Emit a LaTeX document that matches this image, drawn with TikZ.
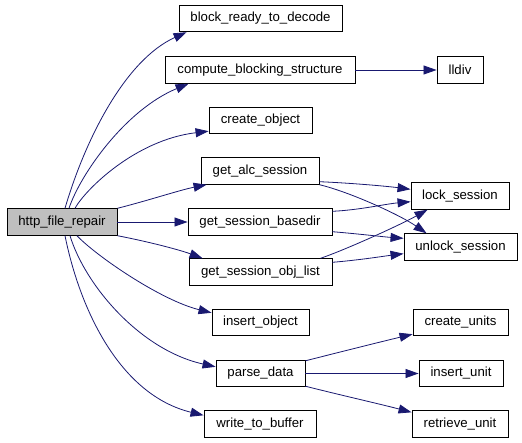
\documentclass[tikz,border=0pt]{standalone}
\usepackage{fontspec}
\setmainfont{Liberation Sans}
\usetikzlibrary{arrows.meta}
\definecolor{edgeblue}{HTML}{191970}
\definecolor{rootgrey}{HTML}{BFBFBF}
\begin{document}
\begin{tikzpicture}[x=1pt,y=-1pt,
  fn/.style={draw=black,line width=0.9pt,fill=white,rectangle,inner sep=0pt,minimum height=26.5pt,font=\fontsize{13.2}{15}\selectfont},
  rootfn/.style={fn,fill=rootgrey},
  call/.style={draw=edgeblue,line width=0.8pt,-{Triangle[length=13pt,width=9pt]}}]
\useasboundingbox (0,0) rectangle (522,442);
% nodes
\node[rootfn,minimum width=110pt] (http) at (62,222) {http\_file\_repair};
\node[fn,minimum width=163pt] (brd) at (260.5,18.5) {block\_ready\_to\_decode};
\node[fn,minimum width=190pt] (cbs) at (260,70) {compute\_blocking\_structure};
\node[fn,minimum width=103pt] (co) at (260.5,120.5) {create\_object};
\node[fn,minimum width=118pt] (gas) at (260,171) {get\_alc\_session};
\node[fn,minimum width=144pt] (gsb) at (260,222) {get\_session\_basedir};
\node[fn,minimum width=143pt] (gsol) at (260.5,272) {get\_session\_obj\_list};
\node[fn,minimum width=97pt] (io) at (260.5,322.5) {insert\_object};
\node[fn,minimum width=89pt] (pd) at (260.5,373.5) {parse\_data};
\node[fn,minimum width=112pt] (wtb) at (260,424) {write\_to\_buffer};
\node[fn,minimum width=46pt] (lld) at (460,70) {lldiv};
\node[fn,minimum width=98pt] (ls) at (460,196) {lock\_session};
\node[fn,minimum width=113pt] (us) at (460.5,247) {unlock\_session};
\node[fn,minimum width=95pt] (cu) at (460.5,322.5) {create\_units};
\node[fn,minimum width=84pt] (iu) at (461,373.5) {insert\_unit};
\node[fn,minimum width=96pt] (ru) at (460,424) {retrieve\_unit};
% edges from http_file_repair
\draw[call] ([xshift=3pt]http.north) .. controls (85,140) and (125,60) .. ([xshift=8pt]brd.south west);
\draw[call] ([xshift=7pt]http.north) .. controls (80,175) and (125,110) .. ([xshift=24pt]cbs.south west);
\draw[call] ([xshift=13pt]http.north) .. controls (85,190) and (135,140) .. ([yshift=3pt]co.south west);
\draw[call] (http.north east) .. controls (150,200) and (180,190) .. ([xshift=6pt]gas.south west);
\draw[call] (http.east) -- (gsb.west);
\draw[call] (http.south east) .. controls (150,242) and (180,250) .. ([xshift=14pt]gsol.north west);
\draw[call] ([xshift=15pt]http.south) .. controls (95,255) and (160,300) .. ([yshift=-4pt]io.north west);
\draw[call] ([xshift=8pt]http.south) .. controls (85,285) and (140,350) .. ([yshift=-7pt]pd.north west);
\draw[call] ([xshift=3pt]http.south) .. controls (80,310) and (120,395) .. ([yshift=-5pt]wtb.north west);
% other edges
\draw[call] (cbs.east) -- (lld.west);
\draw[call] ([yshift=3pt]gas.south east) .. controls (350,183) and (385,186) .. ([yshift=-7pt]ls.north west);
\draw[call] (gas.south east) .. controls (350,192) and (400,215) .. ([xshift=23pt]us.north west);
\draw[call] ([yshift=-3pt]gsb.north east) .. controls (360,210) and (385,204) .. ([yshift=8pt]ls.south west);
\draw[call] ([yshift=4pt]gsb.south east) .. controls (360,234) and (385,237) .. ([yshift=-5pt]us.north west);
\draw[call] ([xshift=-12pt]gsol.north east) .. controls (345,250) and (400,225) .. ([xshift=17pt]ls.south west);
\draw[call] ([yshift=-4pt]gsol.north east) .. controls (360,260) and (385,256) .. ([yshift=7pt]us.south west);
\draw[call] ([yshift=-1pt]pd.north east) .. controls (340,352) and (380,342) .. ([yshift=2pt]cu.south west);
\draw[call] (pd.east) -- (iu.west);
\draw[call] ([yshift=1pt]pd.south east) .. controls (340,395) and (380,404) .. ([yshift=-2pt]ru.north west);
\end{tikzpicture}
\end{document}
